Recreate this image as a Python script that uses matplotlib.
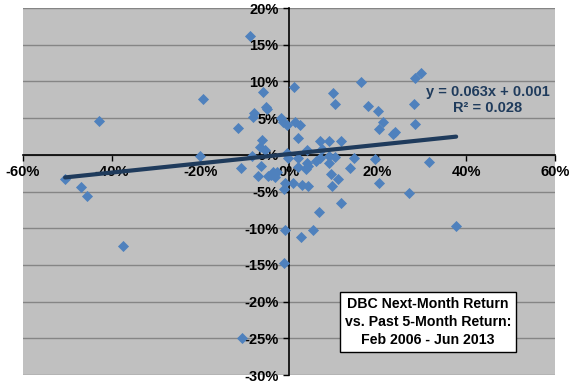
import matplotlib
matplotlib.use("Agg")
import matplotlib.pyplot as plt
import numpy as np
from matplotlib.ticker import FuncFormatter, MultipleLocator

# Past 5-month return (%) and next-month return (%)
past5 = [-50.5, -46.9, -45.6, -42.9, -37.4, -20.1, -19.4, -11.5, -10.8, -8.8,
         -5.8, -7.9, -8.1, -5.3, -4.9, -6.1, -6.5, -5.4, -8.3, -6.3,
         -7.0, -4.7, -2.7, -3.2, -0.9, -1.1, -1.8, -1.4, -0.5, 1.1,
         1.4, 2.5, 2.0, -0.2, 2.0, 4.0, 1.0, 2.9, -0.9, 2.7,
         -1.1, -10.6, 16.2, 9.9, 10.4, 17.8, 20.0, 20.2, 21.2, 23.5,
         23.8, 28.4, 29.8, 28.2, 28.4, 31.6, 27.1, 7.0, 9.0, 11.7,
         7.4, 7.0, 9.0, 10.4, 9.0, 14.7, 19.5, 4.1, 3.8, 13.8,
         9.5, 11.1, 9.7, 4.3, 11.7, 6.8, 5.4, 20.4, 37.7, -0.5,
         2.0, -3.6, -4.1, 4.2, 6.2]
next1 = [-3.3, -4.4, -5.6, 4.6, -12.4, -0.1, 7.6, 3.7, -1.8, 16.2,
         8.6, 5.7, 5.1, 6.5, 6.2, 2.0, 1.0, 0.7, -0.1, -1.5,
         -2.9, -2.9, -2.3, -3.0, -3.8, -4.6, 5.0, 4.5, 4.0, 9.3,
         4.5, 4.1, 2.3, -0.5, -0.5, 0.7, -3.8, -4.1, -10.2, -11.2,
         -14.7, -24.9, 9.9, 8.4, 6.9, 6.6, 6.0, 3.5, 4.5, 2.9,
         3.1, 10.4, 11.2, 6.9, 4.2, -1.0, -5.2, 1.9, 1.9, 1.9,
         0.8, -0.4, -0.2, -0.3, -1.1, -0.4, -0.6, -1.1, -1.9, -1.8,
         -2.6, -3.3, -4.2, -4.2, -6.5, -7.8, -10.2, -3.9, -9.7, 0.3,
         -1.6, -2.4, -2.8, -1.5, -0.9]

slope = 0.063
intercept = 0.001
eq_text = "y = 0.063x + 0.001"
r2_text = "R\u00b2 = 0.028"
box_text = "DBC Next-Month Return\nvs. Past 5-Month Return:\nFeb 2006 - Jun 2013"

x = np.array(past5) / 100.0
y = np.array(next1) / 100.0

fig = plt.figure(figsize=(5.76, 3.84), dpi=100)
ax = fig.add_axes([23/576, 1 - 375/384, (555-23)/576, (375-8)/384])
ax.set_facecolor("#C0C0C0")

ax.set_xlim(-0.6, 0.6)
ax.set_ylim(-0.3, 0.2)
ax.xaxis.set_major_locator(MultipleLocator(0.2))
ax.yaxis.set_major_locator(MultipleLocator(0.05))
pct = FuncFormatter(lambda v, p: f"{v*100:.0f}%")
ax.xaxis.set_major_formatter(pct)
ax.yaxis.set_major_formatter(pct)

ax.grid(axis="y", color="#858585", linewidth=1.0)
ax.set_axisbelow(True)

for s in ["top", "right"]:
    ax.spines[s].set_visible(False)
ax.spines["left"].set_position(("data", 0))
ax.spines["bottom"].set_position(("data", 0))
ax.spines["left"].set_zorder(1.5)
ax.spines["bottom"].set_zorder(1.5)
ax.spines["left"].set_linewidth(1.2)
ax.spines["bottom"].set_linewidth(1.2)

ax.tick_params(axis="both", direction="out", length=4, width=1, labelsize=10.5)
for lab in ax.get_xticklabels() + ax.get_yticklabels():
    lab.set_fontweight("bold")
    lab.set_family("Liberation Sans")

ax.scatter(x, y, marker="D", s=32, color="#4F81BD", zorder=3, linewidths=0)

xl = np.array([x.min(), x.max()])
ax.plot(xl, slope * xl + intercept, color="#1F3B5C", linewidth=3.0,
        solid_capstyle="round", zorder=4)

ax.text(0.449, 0.086, eq_text, color="#1F3B5C", fontsize=10.5, fontweight="bold",
        family="Liberation Sans", ha="center", va="center")
ax.text(0.449, 0.064, r2_text, color="#1F3B5C", fontsize=10.5, fontweight="bold",
        family="Liberation Sans", ha="center", va="center")

ax.text(0.314, -0.228, box_text, fontsize=10.2, fontweight="bold",
        family="Liberation Sans", ha="center", va="center", linespacing=1.35,
        bbox=dict(boxstyle="square,pad=0.35", facecolor="white",
                  edgecolor="black", linewidth=1), zorder=5)

fig.savefig("out.png", dpi=100)
